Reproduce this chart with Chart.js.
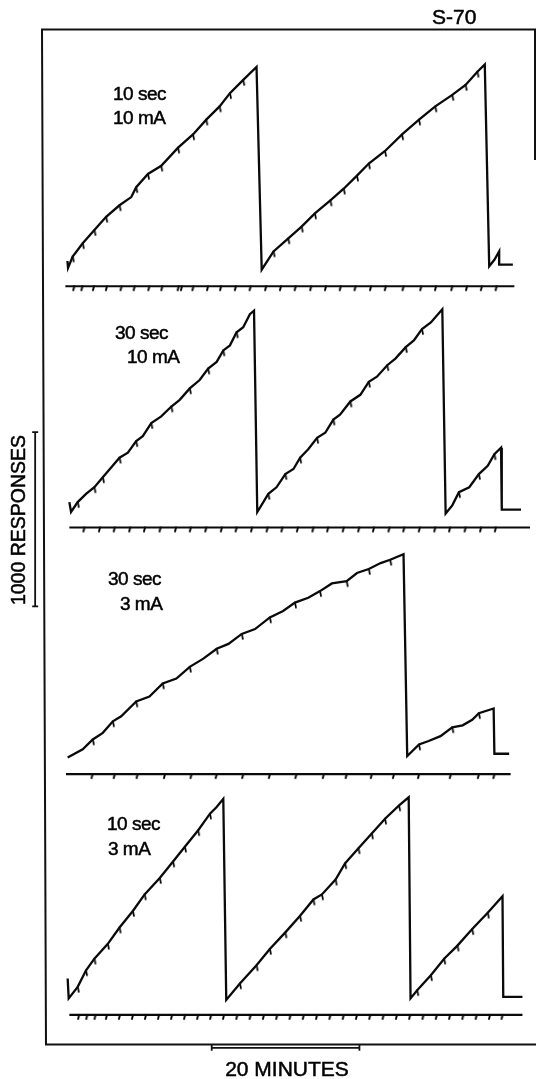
<!DOCTYPE html>
<html>
<head>
<meta charset="utf-8">
<script src="https://cdn.jsdelivr.net/npm/chart.js@4.4.0/dist/chart.umd.min.js"></script>
<style>
  html, body { margin: 0; padding: 0; background: #fff; }
  #wrap { position: relative; width: 536px; height: 1079px; }
</style>
</head>
<body>
<div id="wrap"><canvas id="rec" width="536" height="1079"></canvas></div>
<script>
// cumulative records: [minutes, responses, pip]
const rec1 = [
  [0.0, 40, 0], [0.08, 0, 0], [0.71, 66, 1], [2.07, 142, 1], [3.65, 218, 1], [5.24, 294, 1],
  [7.05, 360, 1], [8.64, 407, 0], [9.31, 464, 1], [10.9, 540, 1], [12.7, 587, 1], [14.98, 691, 1],
  [17.0, 767, 1], [18.8, 852, 1], [20.6, 928, 1], [22.0, 1004, 1], [23.8, 1080, 1], [25.6, 1155, 0],
  [26.3, -10, 0], [27.9, 95, 1], [29.9, 170, 1], [31.7, 237, 1], [33.5, 313, 1], [35.6, 388, 1],
  [37.4, 455, 1], [39.2, 530, 1], [40.8, 600, 1], [43.0, 672, 1], [45.3, 767, 1], [47.6, 852, 1],
  [49.8, 928, 1], [52.1, 994, 1], [53.9, 1051, 1], [55.5, 1127, 1], [56.5, 1169, 0],
  [57.1, 10, 0], [57.8, 47, 0], [58.45, 95, 0], [58.45, 19, 0], [60.3, 19, 0]
];
const rec2 = [
  [0.26, 53, 0], [0.49, -4, 0], [1.39, 53, 1], [2.52, 100, 0], [3.65, 138, 1], [4.79, 195, 1],
  [5.92, 252, 0], [7.05, 308, 1], [8.18, 337, 0], [9.31, 403, 1], [10.2, 432, 0], [11.35, 507, 1],
  [12.7, 545, 0], [14.07, 602, 1], [15.2, 640, 0], [16.56, 706, 1], [17.9, 754, 0], [19.05, 820, 1],
  [20.2, 858, 0], [21.1, 924, 1], [22.0, 953, 0], [22.9, 1028, 1], [23.8, 1057, 0], [24.7, 1132, 0],
  [25.26, 1152, 0], [25.7, -4, 0], [27.2, 100, 1], [28.3, 138, 0], [29.5, 214, 1], [30.6, 243, 0],
  [31.5, 308, 1], [32.6, 356, 0], [33.8, 422, 1], [34.9, 451, 0], [36.0, 527, 1], [36.9, 555, 0],
  [38.3, 631, 1], [39.65, 669, 0], [40.8, 744, 1], [41.9, 773, 0], [43.3, 839, 1], [44.4, 877, 0],
  [45.8, 943, 1], [46.9, 981, 0], [48.0, 1047, 1], [49.2, 1085, 0], [50.75, 1161, 0],
  [51.2, -13, 0], [52.1, 34, 0], [53.0, 110, 1], [54.4, 138, 0], [55.7, 214, 1], [56.9, 261, 0],
  [57.8, 328, 1], [58.7, 365, 0], [58.8, 10, 0], [61.4, 10, 0]
];
const rec3 = [
  [0.03, -11, 0], [2.07, 36, 0], [3.43, 93, 1], [4.79, 131, 0], [6.15, 197, 1], [7.28, 226, 0],
  [9.31, 311, 1], [11.1, 339, 0], [12.9, 415, 1], [14.75, 443, 0], [16.56, 510, 1], [18.4, 557, 0],
  [20.2, 614, 1], [21.8, 642, 0], [23.6, 699, 1], [25.4, 727, 0], [27.4, 794, 1], [29.2, 831, 0],
  [30.8, 879, 1], [32.6, 907, 0], [34.2, 945, 1], [35.8, 989, 0], [37.8, 1002, 1], [39.2, 1049, 0],
  [40.8, 1072, 1], [42.4, 1106, 0], [43.7, 1125, 1], [45.5, 1157, 0],
  [46.0, -2, 0], [47.6, 64, 1], [48.9, 84, 0], [50.5, 112, 0], [52.1, 163, 1], [53.5, 174, 0],
  [54.8, 206, 0], [55.7, 244, 1], [57.7, 271, 0], [57.8, 11, 0], [59.8, 11, 0]
];
const rec4 = [
  [0.03, 112, 0], [0.17, -2, 0], [1.39, 64, 1], [2.52, 159, 1], [3.65, 226, 1], [5.47, 311, 1],
  [7.05, 405, 1], [8.86, 500, 1], [10.45, 595, 1], [12.5, 689, 1], [14.3, 784, 1], [15.9, 869, 1],
  [17.7, 964, 1], [19.3, 1059, 1], [20.2, 1097, 0], [21.1, 1144, 0],
  [21.5, -11, 0], [23.35, 84, 1], [25.6, 188, 1], [27.4, 282, 1], [29.5, 377, 1], [31.5, 472, 1],
  [33.3, 566, 1], [34.45, 595, 1], [36.3, 680, 1], [37.6, 774, 1], [39.4, 860, 1], [41.2, 945, 1],
  [43.0, 1030, 1], [44.9, 1106, 1], [46.2, 1153, 0],
  [46.45, -2, 0], [47.35, 45, 1], [49.2, 131, 1], [51.0, 226, 1], [52.8, 301, 1], [54.8, 396, 1],
  [56.9, 490, 1], [58.9, 585, 0], [59.0, 7, 0], [61.6, 7, 0]
];

// event pen: start/end of line and tick times (minutes)
const ev1 = [-0.28, 60.5];
const ev2 = [0.26, 62.65];
const ev3 = [-0.2, 60.0];
const ev4 = [0.26, 61.6];
const tk1 = [0.93, 2.03, 3.58, 5.34, 7.32, 9.1, 11.09, 12.85, 15.06, 15.5, 17.05, 19.03, 20.8, 22.8,
  24.8, 26.9, 28.9, 30.9, 33.0, 35.0, 37.0, 39.0, 41.1, 43.1, 45.5, 47.9, 49.9, 52.1, 54.1, 56.1, 58.1];
const tk2 = [2.3, 4.4, 6.4, 8.5, 10.5, 12.6, 14.7, 16.7, 18.8, 20.9, 22.9, 25.0, 27.1, 29.1, 31.2,
  33.3, 35.3, 37.4, 39.5, 41.5, 43.6, 45.6, 47.7, 49.8, 51.8, 53.9, 56.0, 58.0];
const tk3 = [3.4, 6.4, 9.5, 13.2, 16.8, 20.2, 23.8, 27.4, 31.0, 34.7, 37.8, 41.2, 44.2, 47.6, 51.9, 55.7, 57.8];
const tk4 = [1.59, 2.69, 3.8, 5.34, 7.1, 8.87, 10.63, 12.4, 14.17, 15.93, 17.7, 19.46, 21.2, 23.0, 24.8,
  26.6, 28.4, 30.2, 32.0, 33.8, 35.6, 37.4, 39.2, 41.0, 42.8, 44.6, 46.4, 48.2, 50.0, 51.8, 53.6,
  55.4, 57.2, 58.9];

const labels = [["10 sec", "10 mA"], ["30 sec", "10 mA"], ["30 sec", "3 mA"], ["10 sec", "3 mA"]];
const SCALE_RESP = 1000;   // calibration bar
const SCALE_MIN = 20;
const title = "S-70";

// layout (paper position of each record, in responses / minutes)
const W = 536, H = 1079, PX_MIN = 7.55, PX_RESP = 0.176, X0 = 63;
const XMIN = -X0 / PX_MIN, XMAX = (W - X0) / PX_MIN, YMAX = H / PX_RESP;
const panels = [
  { rec: rec1, ev: ev1, tk: tk1, base: 4625.0, evOff: -105, lab: [[113, 95], [113, 119]] },
  { rec: rec2, ev: ev2, tk: tk2, base: 3227.3, evOff: -93, lab: [[115, 334], [127, 358]] },
  { rec: rec3, ev: ev3, tk: tk3, base: 1823.9, evOff: -106, lab: [[108, 580], [120, 605]] },
  { rec: rec4, ev: ev4, tk: tk4, base: 431.8, evOff: -97, lab: [[107, 825], [108, 850]] }
];

function mark(dx, dy, w) {
  const s = 2 * Math.max(Math.abs(dx), Math.abs(dy)) + 4;
  const c = document.createElement('canvas');
  c.width = c.height = s;
  const g = c.getContext('2d');
  g.strokeStyle = '#000';
  g.lineWidth = w;
  g.lineCap = 'round';
  g.beginPath();
  g.moveTo(s / 2, s / 2);
  g.lineTo(s / 2 + dx, s / 2 + dy);
  g.stroke();
  return c;
}
const pipMark = mark(1, 5, 1.7);
const tickMark = mark(-1, 4, 1.9);

const datasets = [];
panels.forEach(p => {
  datasets.push({
    data: p.rec.map(d => ({ x: d[0], y: p.base + d[1] })),
    showLine: true, borderColor: '#0a0a0a', borderWidth: 2.3, pointRadius: 0, tension: 0
  });
  datasets.push({
    data: p.rec.filter(d => d[2]).map(d => ({ x: d[0], y: p.base + d[1] })),
    showLine: false, pointStyle: pipMark, pointRadius: 3
  });
  datasets.push({
    data: p.ev.map(t => ({ x: t, y: p.base + p.evOff })),
    showLine: true, borderColor: '#0a0a0a', borderWidth: 2.2, pointRadius: 0
  });
  datasets.push({
    data: p.tk.map(t => ({ x: t, y: p.base + p.evOff })),
    showLine: false, pointStyle: tickMark, pointRadius: 3
  });
});
// calibration bars
const respBar = { x: -4.37, y: 2681.8 };
const minBar = { x: 19.53, y: 146 };
datasets.push({
  data: [respBar, { x: respBar.x, y: respBar.y + SCALE_RESP }],
  showLine: true, borderColor: '#111', borderWidth: 1.8,
  pointStyle: 'line', pointRadius: 3, pointBorderWidth: 1.8, pointBorderColor: '#111'
});
datasets.push({
  data: [minBar, { x: minBar.x + SCALE_MIN, y: minBar.y }],
  showLine: true, borderColor: '#111', borderWidth: 1.8,
  pointStyle: 'line', pointRotation: 90, pointRadius: 3, pointBorderWidth: 1.8, pointBorderColor: '#111'
});

function label(c, s, x, y) {
  c.fillText(s, x, y);
  c.strokeText(s, x, y);
}

const decor = {
  id: 'decor',
  beforeDatasetsDraw(chart) {
    const c = chart.ctx;
    c.save();
    c.strokeStyle = '#111';
    c.lineWidth = 2;
    c.beginPath();
    c.moveTo(535, 160); c.lineTo(535, 29.5); c.lineTo(42, 29.5);
    c.lineTo(46, 1044.5); c.lineTo(536, 1044.5);
    c.stroke();
    c.restore();
  },
  afterDraw(chart) {
    const c = chart.ctx;
    c.save();
    c.fillStyle = '#000';
    c.strokeStyle = '#000';
    c.lineWidth = 0.5;
    c.textBaseline = 'middle';
    c.font = '19px "Liberation Sans", Arial, sans-serif';
    c.letterSpacing = '-0.5px';
    panels.forEach((p, i) => {
      labels[i].forEach((s, j) => label(c, s, p.lab[j][0], p.lab[j][1]));
    });
    c.letterSpacing = '0px';
    c.font = '21px "Liberation Sans", Arial, sans-serif';
    label(c, title, 432, 18);
    c.textAlign = 'center';
    c.font = '21px "Liberation Sans", Arial, sans-serif';
    label(c, SCALE_MIN + ' MINUTES', 287, 1070);
    c.translate(20, 520);
    c.rotate(-Math.PI / 2);
    c.font = '19.5px "Liberation Sans", Arial, sans-serif';
    label(c, SCALE_RESP + ' RESPONSES', 0, 0);
    c.restore();
  }
};

new Chart(document.getElementById('rec'), {
  type: 'scatter',
  data: { datasets },
  options: {
    responsive: false,
    animation: false,
    devicePixelRatio: 1,
    events: [],
    layout: { padding: 0 },
    plugins: { legend: { display: false }, tooltip: { enabled: false } },
    scales: {
      x: { type: 'linear', min: XMIN, max: XMAX, display: false },
      y: { type: 'linear', min: 0, max: YMAX, display: false }
    }
  },
  plugins: [decor]
});
</script>
</body>
</html>
